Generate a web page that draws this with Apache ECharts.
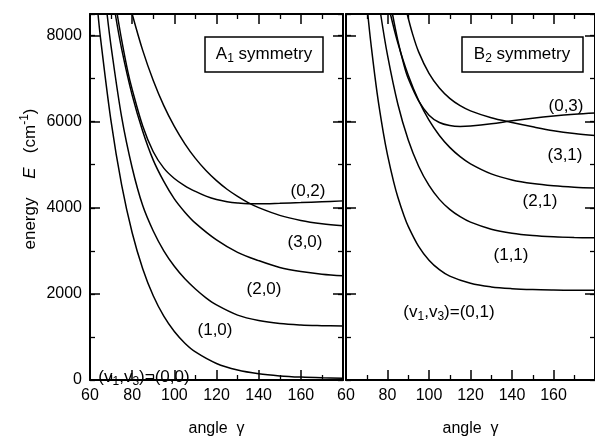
<!DOCTYPE html>
<html><head><meta charset="utf-8">
<script src="https://cdn.jsdelivr.net/npm/echarts@6/dist/echarts.min.js"></script>
<style>html,body{margin:0;padding:0;background:#fff}#c{width:595px;height:442px}</style>
</head><body><div id="c"></div><script>
// ---- data: [angle gamma (deg), energy E (cm^-1)] ----
const A1_00 = [[63.8,8500],[65,7935],[70,6005],[75,4530],[80,3420],[85,2585],[90,1955],[95,1481],[100,1125],[105,855],[110,652],[120,384],[130,231],[140,144],[150,95],[160,67],[170,51],[180,42]];
const A1_10 = [[68.1,8500],[70,7750],[75,6110],[80,4930],[85,4050],[90,3460],[95,3000],[100,2640],[105,2350],[110,2113],[115,1908],[120,1743],[130,1507],[140,1380],[150,1310],[160,1277],[170,1262],[180,1252]];
const A1_20 = [[72,8500],[75,7690],[80,6617],[85,5778],[90,5107],[95,4612],[100,4206],[105,3898],[110,3643],[120,3253],[130,2965],[140,2772],[150,2613],[160,2518],[170,2457],[180,2420]];
const A1_30 = [[80,8500],[85,7655],[90,6956],[95,6372],[100,5889],[105,5485],[110,5147],[115,4866],[120,4630],[125,4430],[130,4265],[135,4120],[140,4003],[150,3824],[160,3706],[170,3630],[180,3581]];
const A1_02 = [[72.9,8500],[75,7900],[78,7150],[80,6750],[85,5900],[90,5300],[95,4920],[100,4680],[105,4510],[110,4380],[115,4270],[120,4190],[125,4140],[130,4110],[135,4095],[140,4095],[150,4105],[160,4120],[170,4140],[180,4160]];

const B2_01 = [[70.5,8500],[72,7820],[75,6664],[78,5740],[80,5230],[83,4595],[85,4244],[88,3809],[90,3568],[95,3103],[100,2783],[105,2563],[110,2412],[120,2245],[130,2162],[140,2121],[150,2100],[160,2090],[170,2085],[180,2082]];
const B2_11 = [[76.7,8500],[80,7543],[85,6404],[90,5574],[95,4965],[100,4518],[105,4195],[110,3962],[115,3793],[120,3666],[130,3503],[140,3410],[150,3357],[160,3327],[170,3310],[180,3301]];
const B2_21 = [[81.4,8500],[85,7827],[90,7076],[95,6491],[100,6035],[105,5680],[110,5403],[115,5188],[120,5021],[130,4788],[140,4647],[150,4562],[160,4510],[170,4478],[180,4459]];
const B2_31 = [[89.5,8500],[92,8050],[95,7620],[100,7120],[105,6780],[110,6540],[115,6370],[120,6250],[130,6090],[140,5980],[150,5880],[160,5790],[170,5725],[180,5680]];
const B2_03 = [[82.4,8500],[85,7880],[88,7300],[90,7000],[95,6480],[100,6150],[105,5980],[110,5910],[115,5890],[120,5900],[130,5950],[140,6020],[150,6080],[160,6130],[170,6170],[180,6200]];

const xTickLabels = [60, 80, 100, 120, 140, 160];
const yTickLabels = [0, 2000, 4000, 6000, 8000];
const xRange = [60, 180];
const yRange = [0, 8500];

// ---- styling / layout ----
const FONT = '"Liberation Sans", Arial, Helvetica, sans-serif';
const BLACK = '#000';
const panels = [
  { left: 90, width: 253, series: [A1_00, A1_10, A1_20, A1_30, A1_02], yLabels: true },
  { left: 346, width: 252, series: [B2_01, B2_11, B2_21, B2_31, B2_03], yLabels: false }
];
const TOP = 14, HEIGHT = 374;

const grid = [], xAxis = [], yAxis = [], series = [];
panels.forEach((p, g) => {
  grid.push({ left: p.left, top: TOP, width: p.width, height: HEIGHT, containLabel: false });
  ['bottom', 'top'].forEach(pos => {
    xAxis.push({
      gridIndex: g, type: 'value', position: pos, min: xRange[0], max: xRange[1], interval: 20,
      axisLine: { show: true, onZero: false, lineStyle: { color: BLACK, width: 2 } },
      axisTick: { show: true, inside: true, length: 10, lineStyle: { color: BLACK, width: 1.5 } },
      minorTick: { show: true, splitNumber: 2, length: 5, lineStyle: { color: BLACK, width: 1.3 } },
      splitLine: { show: false }, minorSplitLine: { show: false },
      axisLabel: pos === 'bottom' ? {
        show: true, color: BLACK, fontSize: 16, fontFamily: FONT, margin: 8,
        showMaxLabel: false,
        formatter: v => xTickLabels.indexOf(v) >= 0 ? String(v) : ''
      } : { show: false },
      name: pos === 'bottom' ? 'angle  γ' : '',
      nameLocation: 'middle', nameGap: 41,
      nameTextStyle: { color: BLACK, fontSize: 16, fontFamily: FONT }
    });
  });
  ['left', 'right'].forEach(pos => {
    [2000, 1000].forEach(iv => {
      const major = iv === 2000;
      const showLab = major && pos === 'left' && p.yLabels;
      yAxis.push({
        gridIndex: g, type: 'value', position: pos, min: yRange[0], max: yRange[1], interval: iv,
        axisLine: { show: major, onZero: false, lineStyle: { color: BLACK, width: 2 } },
        axisTick: { show: true, inside: true, length: major ? 10 : 5, lineStyle: { color: BLACK, width: major ? 1.5 : 1.3 } },
        splitLine: { show: false },
        axisLabel: showLab ? {
          show: true, color: BLACK, fontSize: 16, fontFamily: FONT, margin: 8, showMaxLabel: false,
          formatter: v => yTickLabels.indexOf(v) >= 0 ? String(v) : ''
        } : { show: false }
      });
    });
  });
  p.series.forEach(d => {
    series.push({
      type: 'line', xAxisIndex: g * 2, yAxisIndex: g * 4, data: d,
      showSymbol: false, symbol: 'none', smooth: 0.35,
      lineStyle: { color: BLACK, width: 1.5 }, silent: true, clip: true
    });
  });
});

function label(x, y, text, size) {
  const s = size || 17;
  return {
    type: 'text', x: x, y: y, z: 100,
    style: {
      text: text, fill: BLACK, fontSize: s, fontFamily: FONT,
      align: 'center', verticalAlign: 'middle', textAlign: 'center', textVerticalAlign: 'middle',
      rich: {
        sub: { fontSize: 12, fontFamily: FONT, fill: BLACK, lineHeight: 12, verticalAlign: 'bottom' },
        n: { fontSize: s, fontFamily: FONT, fill: BLACK, lineHeight: 22, verticalAlign: 'middle' }
      }
    }
  };
}
function box(x, y, w, h) {
  return { type: 'rect', z: 99, shape: { x: x, y: y, width: w, height: h },
    style: { fill: '#fff', stroke: BLACK, lineWidth: 1.5 } };
}

const yTitle = {
  type: 'text', x: 30, y: 179, rotation: Math.PI / 2, z: 100,
  style: {
    text: '{n|energy    }{i|E}{n|   (cm}{sup|-1}{n|)}',
    fill: BLACK, fontSize: 17, fontFamily: FONT,
    align: 'center', verticalAlign: 'middle', textAlign: 'center', textVerticalAlign: 'middle',
    rich: {
      n: { fontSize: 17, fontFamily: FONT, fill: BLACK, lineHeight: 22, verticalAlign: 'middle' },
      i: { fontSize: 17, fontFamily: FONT, fontStyle: 'italic', fill: BLACK, lineHeight: 22, verticalAlign: 'middle' },
      sup: { fontSize: 12, fontFamily: FONT, fill: BLACK, lineHeight: 12, verticalAlign: 'top' }
    }
  }
};

const graphic = [
  yTitle,
  box(205, 37, 118, 35), label(264, 54, '{n|A}{sub|1}{n| symmetry}', 17),
  box(462, 37, 121, 35), label(522, 54, '{n|B}{sub|2}{n| symmetry}', 17),
  label(308, 191, '(0,2)'), label(305, 242, '(3,0)'), label(264, 289, '(2,0)'),
  label(215, 330, '(1,0)'), label(144, 377, '{n|(v}{sub|1}{n|,v}{sub|3}{n|)=(0,0)}'),
  label(566, 106, '(0,3)'), label(565, 155, '(3,1)'), label(540, 201, '(2,1)'),
  label(511, 255, '(1,1)'), label(449, 312, '{n|(v}{sub|1}{n|,v}{sub|3}{n|)=(0,1)}')
];

const chart = echarts.init(document.getElementById('c'), null, { renderer: 'canvas' });
chart.setOption({ animation: false, backgroundColor: '#fff', grid, xAxis, yAxis, series, graphic });
</script></body></html>
